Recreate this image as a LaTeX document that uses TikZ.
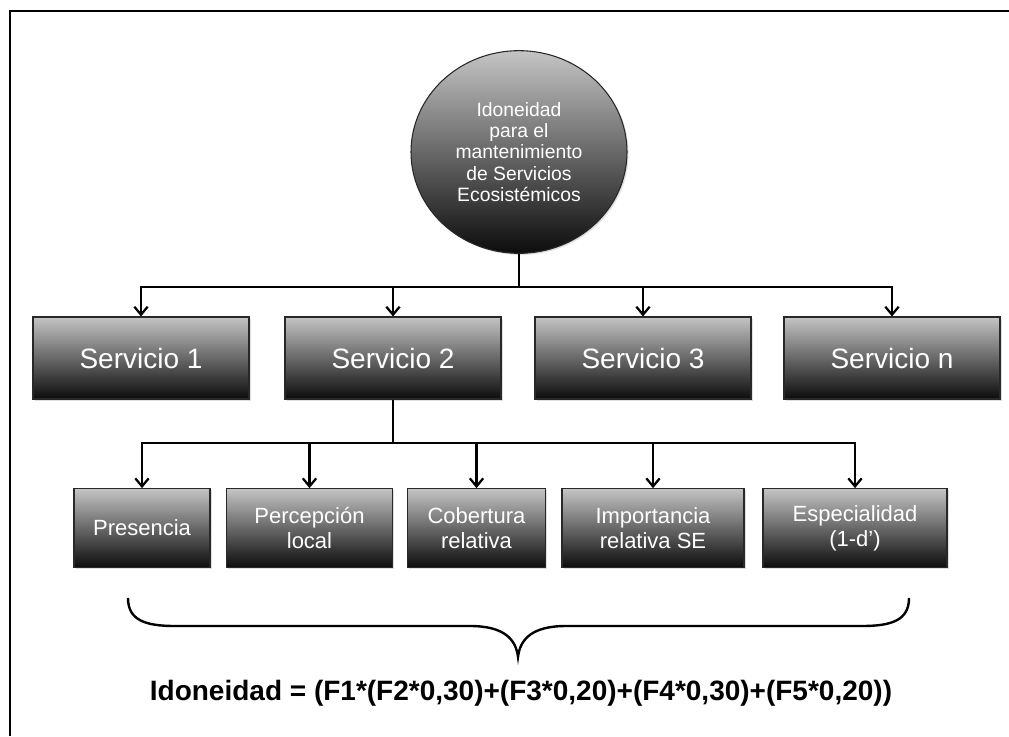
\documentclass[tikz,border=0pt]{standalone}
\usepackage{fontspec}
\setmainfont{Liberation Sans}
\usetikzlibrary{arrows.meta,shapes.geometric,shadows}
\definecolor{gtop}{RGB}{196,196,196}
\definecolor{gbot}{RGB}{12,12,12}
\definecolor{gedge}{RGB}{40,40,40}
\begin{document}
\begin{tikzpicture}[x=0.75pt,y=-0.75pt,
  grad/.style={draw=gedge,line width=0.8pt,top color=gtop,bottom color=gbot,text=white,align=center,
    drop shadow={opacity=0.25,shadow xshift=1.2pt,shadow yshift=-1.2pt}},
  svc/.style={grad,rectangle,minimum width=162pt,minimum height=61.5pt,font=\fontsize{21}{25}\selectfont},
  fac/.style={grad,rectangle,minimum height=59pt,font=\fontsize{16.5}{19}\selectfont},
  ln/.style={line width=1.7pt,line join=miter},
  arr/.style={ln,-{Straight Barb[length=6pt,width=10pt]}},
  bracestyle/.style={line width=1.8pt}]
\fill[white] (0,0) rectangle (1009,736);
\useasboundingbox (0,0) rectangle (1009,736);
\draw[line width=1.6pt] (10,736) -- (10,11) -- (1009,11);

\node[grad,ellipse,minimum width=162pt,minimum height=152pt,inner sep=0pt,font=\fontsize{14.5}{16}\selectfont] (circ) at (519,152)
  {Idoneidad\\para el\\mantenimiento\\de Servicios\\Ecosistémicos};

\node[svc] (s1) at (141,358) {Servicio 1};
\node[svc] (s2) at (393,358) {Servicio 2};
\node[svc] (s3) at (643,358) {Servicio 3};
\node[svc] (s4) at (892,358) {Servicio n};

\node[fac,minimum width=102pt] (p1) at (142,528) {Presencia};
\node[fac,minimum width=124pt] (p2) at (309.5,528) {Percepción\\local};
\node[fac,minimum width=103pt] (p3) at (476.5,528) {Cobertura\\relativa};
\node[fac,minimum width=136.5pt] (p4) at (653,528) {Importancia\\relativa SE};
\node[fac,minimum width=138pt] (p5) at (855,528) {Especialidad\\(1-d’)};

\coordinate (j1) at (519,287);
\draw[ln] (circ.south) -- (j1);
\foreach \n in {s1,s2,s3,s4} \draw[arr] (j1) -| (\n.north);

\coordinate (j2) at (393,443);
\draw[ln] (s2.south) -- (j2);
\foreach \n in {p1,p2,p3,p4,p5} \draw[arr] (j2) -| (\n.north);

\draw[bracestyle] (128,598) .. controls (128,620) and (145,626) .. (175,626) -- (470,626)
  .. controls (505,626) and (516,640) .. (518,657)
  .. controls (520,640) and (531,626) .. (566,626) -- (862,626)
  .. controls (892,626) and (909,620) .. (909,598);

\node[anchor=base,font=\bfseries\fontsize{21}{25}\selectfont] (f) at (521,700)
  {Idoneidad = (F1*(F2*0,30)+(F3*0,20)+(F4*0,30)+(F5*0,20))};
\end{tikzpicture}
\end{document}
